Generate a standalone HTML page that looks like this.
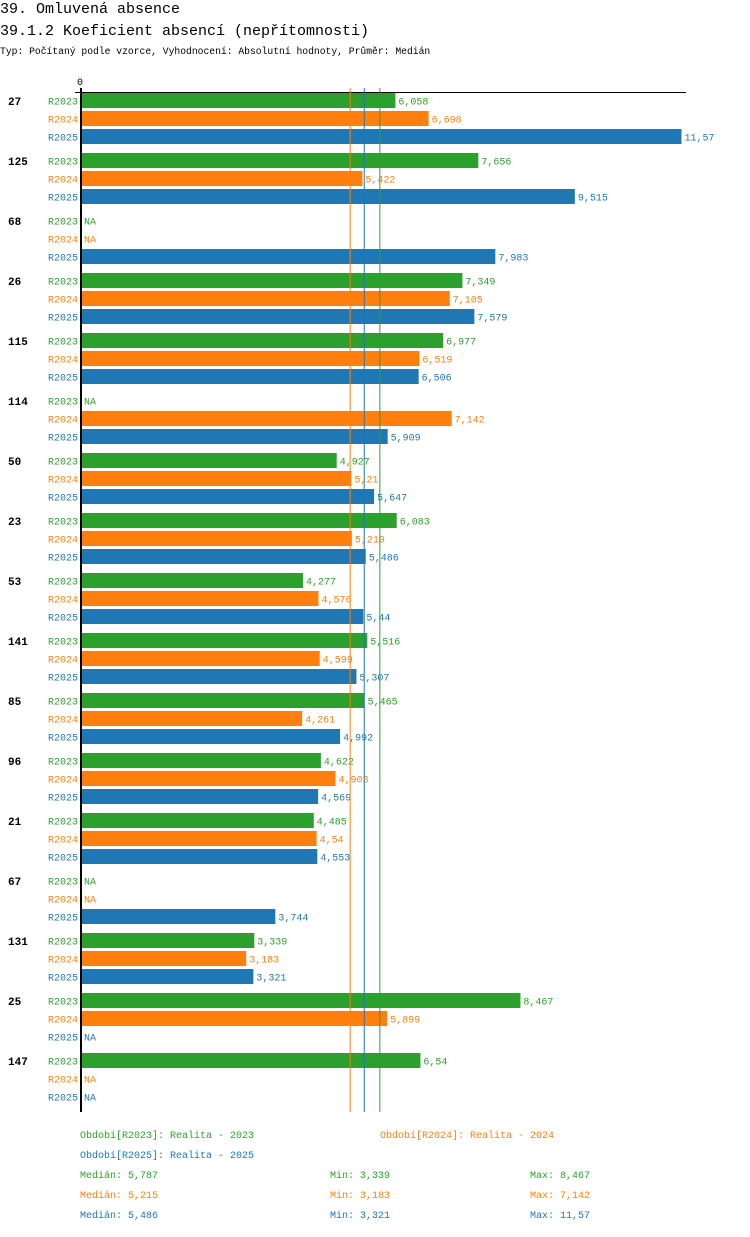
<!DOCTYPE html>
<html><head><meta charset="utf-8"><style>
body{margin:0;background:#fff;width:750px;height:1232px;overflow:hidden;font-family:"Liberation Mono",monospace}
svg text{font-family:"Liberation Mono",monospace}
</style></head><body>
<svg id="c" width="750" height="1232">
<text x="0" y="13" font-size="15">39. Omluvená absence</text>
<text x="0" y="35" font-size="15">39.1.2 Koeficient absencí (nepřítomnosti)</text>
<text x="0" y="54" font-size="9.7">Typ: Počítaný podle vzorce, Vyhodnocení: Absolutní hodnoty, Průměr: Medián</text>
<text x="77" y="85" font-size="10">0</text>
<line x1="75" y1="92.5" x2="686" y2="92.5" stroke="#000"/>
<g id="bars"></g>
<line x1="81" y1="88" x2="81" y2="1112" stroke="#000" stroke-width="2"/>
<g font-size="10">
<text x="80" y="1138" fill="#2ca02c">Období[R2023]: Realita - 2023</text>
<text x="380" y="1138" fill="#ff7f0e">Období[R2024]: Realita - 2024</text>
<text x="80" y="1158" fill="#1f77b4">Období[R2025]: Realita - 2025</text>
<text x="80" y="1178" fill="#2ca02c">Medián: 5,787</text>
<text x="330" y="1178" fill="#2ca02c">Min: 3,339</text>
<text x="530" y="1178" fill="#2ca02c">Max: 8,467</text>
<text x="80" y="1198" fill="#ff7f0e">Medián: 5,215</text>
<text x="330" y="1198" fill="#ff7f0e">Min: 3,183</text>
<text x="530" y="1198" fill="#ff7f0e">Max: 7,142</text>
<text x="80" y="1218" fill="#1f77b4">Medián: 5,486</text>
<text x="330" y="1218" fill="#1f77b4">Min: 3,321</text>
<text x="530" y="1218" fill="#1f77b4">Max: 11,57</text>
</g>
</svg>
<script>
const categories=["27","125","68","26","115","114","50","23","53","141","85","96","21","67","131","25","147"];
const seriesNames=["R2023","R2024","R2025"];
const r2023=[6.058,7.656,null,7.349,6.977,null,4.927,6.083,4.277,5.516,5.465,4.622,4.485,null,3.339,8.467,6.54];
const r2024=[6.698,5.422,null,7.105,6.519,7.142,5.21,5.219,4.576,4.599,4.261,4.903,4.54,null,3.183,5.899,null];
const r2025=[11.57,9.515,7.983,7.579,6.506,5.909,5.647,5.486,5.44,5.307,4.992,4.569,4.553,3.744,3.321,null,null];
const medians=[5.787,5.215,5.486];
const colors=["#2ca02c","#ff7f0e","#1f77b4"];
const series=[r2023,r2024,r2025];
const NS="http://www.w3.org/2000/svg";
const g=document.getElementById('bars');
const x=v=>81+v*51.9;
const y=(i,s)=>93+i*60+s*18;
function mk(t,a){const e=document.createElementNS(NS,t);for(const k in a)e.setAttribute(k,a[k]);g.appendChild(e);return e;}
const fmt=v=>String(v).replace('.',',');
categories.forEach((c,i)=>{
  const t=mk('text',{x:8,y:y(i,0)+12,'font-size':11,'font-weight':'bold'});t.textContent=c;
  
  
  series.forEach((arr,s)=>{
    const yy=y(i,s);
    const l=mk('text',{x:78,y:yy+11.5,'font-size':10,fill:colors[s],'text-anchor':'end'});l.textContent=seriesNames[s];
    
    
    const v=arr[i];
    if(v==null){
      const n=mk('text',{x:84,y:yy+11.5,'font-size':10,fill:colors[s]});n.textContent='NA';
      
      
      return;
    }
    const r=mk('rect',{x:82,y:yy,width:x(v)-82,height:15,fill:colors[s]});
    
    
    const vt=mk('text',{x:x(v)+3,y:yy+11.5,'font-size':10,fill:colors[s]});vt.textContent=fmt(v);
    
    
  });
});
medians.forEach((m,s)=>{
  const l=mk('line',{x1:x(m)-1.5,x2:x(m)-1.5,y1:88,y2:1112,stroke:colors[s],'stroke-width':1});
  
  
});
</script>
</body></html>
